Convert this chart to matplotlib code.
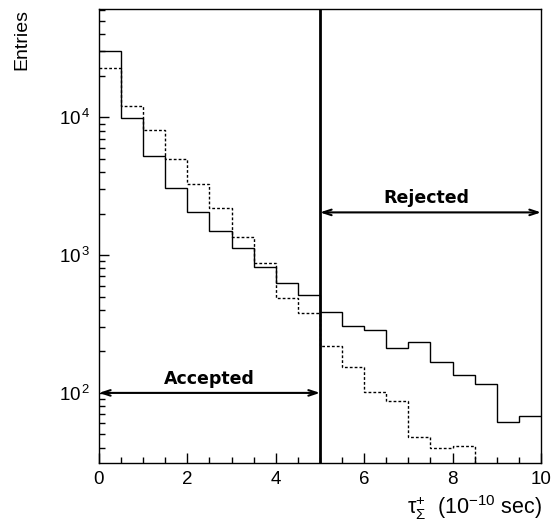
import numpy as np
import matplotlib
matplotlib.use("Agg")
import matplotlib.pyplot as plt
from matplotlib.ticker import LogLocator, MultipleLocator, NullFormatter

plt.rcParams['font.family'] = ['Liberation Sans', 'DejaVu Sans']
plt.rcParams['mathtext.fontset'] = 'custom'
plt.rcParams['mathtext.rm'] = 'Liberation Sans'
plt.rcParams['mathtext.it'] = 'Liberation Sans:italic'

# tau bins (10^-10 sec), width 0.5
bin_edges = np.arange(0, 10.01, 0.5)

# solid histogram
solid_counts = [30000, 9800, 5250, 3080, 2050, 1500, 1117, 813, 622, 512,
                388, 304, 285, 212, 235, 168, 134, 117, 62, 68]
# dotted histogram
dotted_counts = [22800, 12150, 8050, 4990, 3300, 2180, 1345, 880, 490, 378,
                 219, 155, 101, 87, 48, 40, 41.5, 20, 12, 8]

cut = 5.0
arrow_y_rej = 2040
arrow_y_acc = 100

fig = plt.figure(figsize=(5.54, 5.30), dpi=100)
ax = fig.add_axes([0.1787, 0.1264, 0.7978, 0.8566])

ax.stairs(solid_counts, bin_edges, baseline=None, color='black', lw=1.0)
ax.stairs(dotted_counts, bin_edges, baseline=None, color='black', lw=1.0,
          linestyle=(0, (2, 1.5)))

ax.axvline(cut, color='black', lw=2.0)

ax.set_yscale('log')
ax.set_xlim(0, 10)
ax.set_ylim(31, 6.1e4)

arr = dict(arrowstyle='<->,head_length=0.6,head_width=0.2', color='black', lw=1.5,
           shrinkA=0, shrinkB=0)
ax.annotate('', xy=(10, arrow_y_rej), xytext=(cut, arrow_y_rej), arrowprops=arr)
ax.annotate('', xy=(cut, arrow_y_acc), xytext=(0, arrow_y_acc), arrowprops=arr)
ax.text(7.4, 2600, 'Rejected', ha='center', va='center', fontsize=12.5,
        family='DejaVu Sans', weight='semibold')
ax.text(2.5, 127, 'Accepted', ha='center', va='center', fontsize=12.5,
        family='DejaVu Sans', weight='semibold')

ax.xaxis.set_major_locator(MultipleLocator(2))
ax.xaxis.set_minor_locator(MultipleLocator(0.5))
ax.yaxis.set_minor_locator(LogLocator(base=10, subs=np.arange(2, 10), numticks=20))
ax.yaxis.set_minor_formatter(NullFormatter())
ax.set_yticks([100, 1000, 10000])
ax.set_yticklabels([r'$10^{\,2}$', r'$10^{\,3}$', r'$10^{\,4}$'])

ax.tick_params(which='both', direction='in', top=False, right=False, labelsize=13.5,
               width=1.0)
ax.tick_params(which='major', length=7, pad=6)
ax.tick_params(which='minor', length=4)
for s in ax.spines.values():
    s.set_linewidth(1.0)

fig.text(0.04, 0.925, 'Entries', rotation=90, ha='center', va='center', fontsize=14)
fig.text(0.978, 0.03, r'$\mathrm{τ}^{+}_{\Sigma}$  (10$^{-10}$ sec)', ha='right',
         va='baseline', fontsize=15.5)

fig.savefig('out.png', dpi=100)
